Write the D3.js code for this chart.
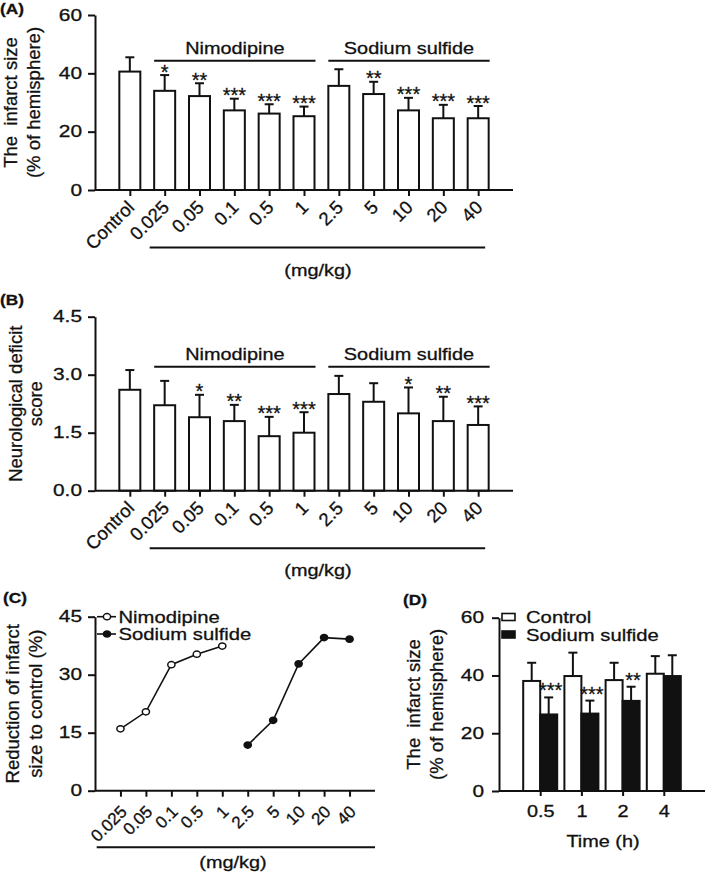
<!DOCTYPE html>
<html><head><meta charset="utf-8">
<script src="https://cdn.jsdelivr.net/npm/d3@7"></script>
<style>
body{margin:0;background:#fff;}
svg{display:block;font-family:"Liberation Sans",Arial,sans-serif;}
text{fill:#111;stroke:#111;stroke-width:0.3px;}
</style></head>
<body><svg id="c" width="709" height="872"></svg>
<script>
// ---------- data ----------
const doseCats = ["Control","0.025","0.05","0.1","0.5","1","2.5","5","10","20","40"];
const infarctMean = [40.6,34.0,32.2,27.3,26.2,25.3,35.7,32.9,27.3,24.6,24.6];
const infarctSD   = [4.9,5.4,4.4,4.0,3.2,3.3,5.7,4.2,4.3,4.6,4.2];
const infarctSig  = ["","*","**","***","***","***","","**","***","***","***"];
const neuroMean = [2.61,2.21,1.90,1.80,1.41,1.50,2.50,2.30,2.00,1.80,1.70];
const neuroSD   = [0.51,0.63,0.58,0.42,0.50,0.53,0.47,0.48,0.67,0.63,0.48];
const neuroSig  = ["","","*","**","***","***","","","*","**","***"];
const infarctTicks = [0,20,40,60];
const neuroTicks = [0,1.5,3.0,4.5];
const nimoDoses = ["0.025","0.05","0.1","0.5","1"];
const sulfDoses = ["2.5","5","10","20","40"];
const nimoReduction = [16.0,20.4,32.6,35.3,37.4];
const sulfReduction = [11.8,18.2,32.8,39.6,39.2];
const reductionTicks = [0,15,30,45];
const times = ["0.5","1","2","4"];
const ctrlMean = [38.1,39.8,38.4,40.6];
const ctrlSD   = [6.3,8.1,6.0,6.1];
const sulfMean = [26.5,26.8,31.2,39.8];
const sulfSD   = [5.9,4.5,4.9,7.2];
const sulfSig  = ["***","***","**",""];

const svg = d3.select("#c");
const HF = 16.3;      // horizontal text font size
const KX = 1.22;      // horizontal stretch of horizontal text
const RF = 18.5;      // rotated text font size
const SW = 2;
const INK = "#111";

function stretch(sel,k){
  sel.each(function(){
    const w = this.getComputedTextLength();
    d3.select(this).attr("textLength",w*k).attr("lengthAdjust","spacingAndGlyphs");
  });
  return sel;
}
function htext(g,x,y,t,anchor,fs,k){
  const s = g.append("text").attr("x",x).attr("y",y).attr("text-anchor",anchor||"start")
    .attr("font-size",fs||HF).text(t);
  stretch(s,k||KX);
  return s;
}
function styleAxis(g){
  g.selectAll("path,line").attr("stroke",INK).attr("stroke-width",SW);
}
function yTitle(x1,x2,yc,l1,l2){
  [[x1,l1],[x2,l2]].forEach(([x,t])=>{
    svg.append("text").attr("transform",`translate(${x},${yc}) rotate(-90)`)
      .attr("text-anchor","middle").attr("font-size",RF).style("white-space","pre").text(t);
  });
}
function panelLabel(x,y,t){
  const s = svg.append("text").attr("x",x).attr("y",y).attr("font-size",15).attr("font-weight","bold").text(t);
  stretch(s,1.15);
}

// ---------- bar panels A & B ----------
function barPanel(opt){
  const x = d3.scalePoint().domain(doseCats).range([95,513]).padding(1);
  const y = d3.scaleLinear().domain([0,opt.max]).range([opt.y0,opt.y1]);
  const g = svg.append("g");
  const bw = 21;
  g.selectAll("rect.bar").data(doseCats).join("rect")
    .attr("x",d=>x(d)-bw/2).attr("width",bw)
    .attr("y",(d,i)=>y(opt.mean[i])).attr("height",(d,i)=>y(0)-y(opt.mean[i]))
    .attr("fill","#fff").attr("stroke",INK).attr("stroke-width",SW);
  doseCats.forEach((d,i)=>{
    const top = y(opt.mean[i]+opt.sd[i]);
    g.append("line").attr("x1",x(d)).attr("x2",x(d)).attr("y1",y(opt.mean[i])).attr("y2",top).attr("stroke",INK).attr("stroke-width",SW);
    g.append("line").attr("x1",x(d)-4.5).attr("x2",x(d)+4.5).attr("y1",top).attr("y2",top).attr("stroke",INK).attr("stroke-width",SW);
    if(opt.sig[i]) g.append("text").attr("x",x(d)).attr("y",top+3.5).attr("text-anchor","middle").attr("font-size",20).text(opt.sig[i]);
  });
  const ya = g.append("g").attr("transform","translate(95,0)")
    .call(d3.axisLeft(y).tickValues(opt.ticks).tickFormat(opt.fmt).tickSize(7).tickPadding(6).tickSizeOuter(0));
  styleAxis(ya);
  ya.selectAll(".tick text").attr("font-size",HF).attr("fill",INK).call(stretch,1.28);
  const xa = g.append("g").attr("transform",`translate(0,${y(0)})`)
    .call(d3.axisBottom(x).tickSize(6).tickSizeOuter(0));
  styleAxis(xa);
  xa.select(".domain").attr("d",`M95,0H513`);
  xa.selectAll(".tick text").attr("font-size",RF).attr("fill",INK)
    .attr("text-anchor","end").attr("dy",0).attr("y",0)
    .attr("transform","translate(5,18.5) rotate(-45)");
  const lineY = y(opt.max) + opt.grpOff;
  [[doseCats.slice(1,6),"Nimodipine"],[doseCats.slice(6),"Sodium sulfide"]].forEach(([cs,lab])=>{
    const a = x(cs[0])-10.5, b = x(cs[cs.length-1])+11.5;
    g.append("line").attr("x1",a).attr("x2",b).attr("y1",lineY).attr("y2",lineY).attr("stroke",INK).attr("stroke-width",SW);
    htext(g,(a+b)/2,lineY-7,lab,"middle");
  });
  const uy = y(0)+57.5;
  g.append("line").attr("x1",x("0.025")-15).attr("x2",x("40")+7).attr("y1",uy).attr("y2",uy).attr("stroke",INK).attr("stroke-width",SW);
  htext(g,318,uy+28,"(mg/kg)","middle");
  yTitle(opt.t1x,opt.t2x,(opt.y0+opt.y1)/2,opt.title1,opt.title2);
}

panelLabel(0,14,"(A)");
barPanel({max:60,y0:190,y1:15,mean:infarctMean,sd:infarctSD,sig:infarctSig,ticks:infarctTicks,
  fmt:d3.format("d"),grpOff:45.7,title1:"The  infarct size",title2:"(% of hemisphere)",t1x:17,t2x:40});
panelLabel(0,305,"(B)");
barPanel({max:4.5,y0:490.7,y1:316.7,mean:neuroMean,sd:neuroSD,sig:neuroSig,ticks:neuroTicks,
  fmt:d3.format(".1f"),grpOff:50,title1:"Neurological deficit",title2:"score",t1x:22,t2x:42});

// ---------- panel C ----------
(function(){
  const doses = nimoDoses.concat(sulfDoses);
  const x = d3.scalePoint().domain(doses).range([95,375]).padding(1);
  const y = d3.scaleLinear().domain([0,45]).range([790.7,616.7]);
  const g = svg.append("g");
  const ya = g.append("g").attr("transform","translate(95,0)")
    .call(d3.axisLeft(y).tickValues(reductionTicks).tickSize(7).tickPadding(6).tickSizeOuter(0));
  styleAxis(ya);
  ya.selectAll(".tick text").attr("font-size",HF).attr("fill",INK).call(stretch,1.28);
  const xa = g.append("g").attr("transform",`translate(0,${y(0)})`)
    .call(d3.axisBottom(x).tickSize(6).tickSizeOuter(0));
  styleAxis(xa);
  xa.select(".domain").attr("d","M95,0H375");
  xa.selectAll(".tick text").attr("font-size",17).attr("fill",INK).attr("text-anchor","end").attr("dy",0).attr("y",0)
    .attr("transform","translate(7,22) rotate(-45)");
  const line = d3.line().x(d=>x(d[0])).y(d=>y(d[1]));
  const series = [[nimoDoses,nimoReduction,"#fff"],[sulfDoses,sulfReduction,INK]];
  series.forEach(([ds,vals,fill])=>{
    const pts = ds.map((d,i)=>[d,vals[i]]);
    g.append("path").attr("d",line(pts)).attr("fill","none").attr("stroke",INK).attr("stroke-width",1.6);
    g.selectAll(null).data(pts).join("ellipse").attr("cx",d=>x(d[0])).attr("cy",d=>y(d[1])).attr("rx",3.6).attr("ry",3.1)
      .attr("fill",fill).attr("stroke",INK).attr("stroke-width",1.5);
  });
  [["Nimodipine","#fff",616.7],["Sodium sulfide",INK,634]].forEach(([t,f,ly])=>{
    g.append("line").attr("x1",97).attr("x2",116).attr("y1",ly).attr("y2",ly).attr("stroke",INK).attr("stroke-width",1.6);
    g.append("ellipse").attr("cx",107).attr("cy",ly).attr("rx",3.6).attr("ry",3.1).attr("fill",f).attr("stroke",INK).attr("stroke-width",1.5);
    htext(g,118.5,ly+6.3,t,"start",HF+0.3);
  });
  g.append("line").attr("x1",96.7).attr("x2",375).attr("y1",847.3).attr("y2",847.3).attr("stroke",INK).attr("stroke-width",SW);
  htext(g,233,868,"(mg/kg)","middle");
  yTitle(19,42,703.7,"Reduction of infarct","size to control (%)");
})();
panelLabel(3,603,"(C)");

// ---------- panel D ----------
(function(){
  const x = d3.scalePoint().domain(times).range([499,705]).padding(1);
  const sub = d3.scaleBand().domain(["c","s"]).range([-17,17]);
  const y = d3.scaleLinear().domain([0,60]).range([791,617.7]);
  const g = svg.append("g");
  const grp = [["c",ctrlMean,ctrlSD,"#fff"],["s",sulfMean,sulfSD,INK]];
  grp.forEach(([k,m,sd,fill])=>{
    times.forEach((t,i)=>{
      const bx = x(t)+sub(k), cx = bx+sub.bandwidth()/2, top=y(m[i]+sd[i]);
      g.append("line").attr("x1",cx).attr("x2",cx).attr("y1",y(m[i])).attr("y2",top).attr("stroke",INK).attr("stroke-width",SW);
      g.append("line").attr("x1",cx-4.5).attr("x2",cx+4.5).attr("y1",top).attr("y2",top).attr("stroke",INK).attr("stroke-width",SW);
      g.append("rect").attr("x",bx).attr("width",sub.bandwidth()).attr("y",y(m[i])).attr("height",y(0)-y(m[i]))
        .attr("fill",fill).attr("stroke",INK).attr("stroke-width",SW);
      if(k==="s" && sulfSig[i]) g.append("text").attr("x",cx+2).attr("y",top).attr("text-anchor","middle").attr("font-size",20).text(sulfSig[i]);
    });
  });
  const ya = g.append("g").attr("transform","translate(499,0)")
    .call(d3.axisLeft(y).tickValues(infarctTicks).tickSize(7).tickPadding(8).tickSizeOuter(0));
  styleAxis(ya);
  ya.selectAll(".tick text").attr("font-size",HF).attr("fill",INK).call(stretch,1.28);
  const xa = g.append("g").attr("transform",`translate(0,${y(0)})`)
    .call(d3.axisBottom(x).tickSize(5).tickPadding(9).tickSizeOuter(0));
  styleAxis(xa);
  xa.selectAll(".tick text").attr("font-size",HF).attr("fill",INK).call(stretch,KX);
  xa.select(".domain").attr("d","M499,0H705");
  htext(g,603,847,"Time (h)","middle");
  [["Control","#fff",617],["Sodium sulfide",INK,634.5]].forEach(([t,f,ly])=>{
    g.append("rect").attr("x",502).attr("y",ly-3.5).attr("width",13).attr("height",7).attr("fill",f).attr("stroke",INK).attr("stroke-width",1.6);
    htext(g,526,ly+6,t,"start",HF+0.3);
  });
  yTitle(420,443,704.4,"The  infarct size","(% of hemisphere)");
})();
panelLabel(403,605,"(D)");
</script></body></html>
